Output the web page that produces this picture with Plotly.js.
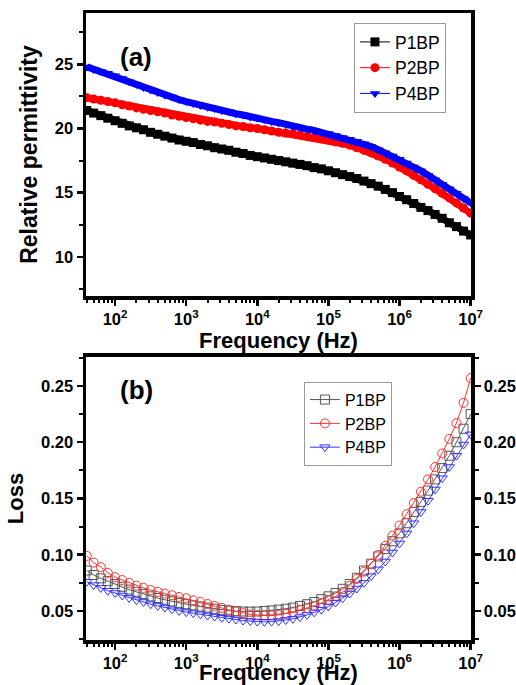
<!DOCTYPE html>
<html>
<head>
<meta charset="utf-8">
<script src="https://cdn.plot.ly/plotly-3.0.1.min.js"></script>
<style>html,body{margin:0;padding:0;background:#fff;}#chart{width:516px;height:685px;}</style>
</head>
<body>
<div id="chart"></div>
<script>
// Frequency (Hz)
const freq = [40,50,63,79,100,126,158,200,251,316,398,501,631,794,
  1000,1259,1585,1995,2512,3162,3981,5012,6310,7943,
  1e4,12589,15849,19953,25119,31623,39811,50119,63096,79433,
  1e5,125893,158489,199526,251189,316228,398107,501187,630957,794328,
  1e6,1258925,1584893,1995262,2511886,3162278,3981072,5011872,6309573,7943282,1e7];

// (a) Relative permittivity
const permP1BP = [21.4,21.2,21.0,20.8,20.6,20.4,20.2,20.05,19.9,19.7,19.55,19.4,19.25,19.1,
  19.0,18.9,18.75,18.65,18.5,18.4,18.3,18.15,18.05,17.9,
  17.8,17.7,17.6,17.5,17.4,17.3,17.2,17.1,16.95,16.85,
  16.7,16.55,16.4,16.25,16.1,15.9,15.7,15.5,15.25,15.0,
  14.7,14.45,14.15,13.85,13.6,13.3,13.0,12.65,12.35,12.0,11.7];
const permP2BP = [22.4,22.3,22.2,22.1,22.0,21.85,21.75,21.6,21.5,21.4,21.3,21.2,21.05,20.95,
  20.85,20.75,20.65,20.55,20.5,20.4,20.3,20.2,20.15,20.05,
  20.0,19.9,19.8,19.7,19.65,19.6,19.5,19.4,19.3,19.2,
  19.1,18.95,18.85,18.7,18.5,18.3,18.1,17.85,17.6,17.3,
  17.0,16.7,16.35,16.0,15.65,15.3,14.95,14.6,14.2,13.8,13.4];
const permP4BP = [24.8,24.6,24.45,24.3,24.1,23.9,23.65,23.45,23.2,23.0,22.8,22.6,22.45,22.25,
  22.1,21.95,21.8,21.65,21.55,21.4,21.3,21.15,21.05,20.9,
  20.8,20.7,20.55,20.45,20.3,20.2,20.1,19.95,19.85,19.7,
  19.6,19.45,19.3,19.15,19.0,18.8,18.6,18.35,18.1,17.85,
  17.6,17.3,17.0,16.7,16.35,16.0,15.65,15.3,14.95,14.55,14.2];

// (b) Loss
const lossP1BP = [0.086,0.082,0.079,0.0765,0.074,0.0715,0.069,0.067,0.065,0.063,0.0615,0.060,0.0585,0.057,
  0.056,0.055,0.054,0.053,0.052,0.051,0.0503,0.0498,0.0495,0.0494,
  0.0495,0.050,0.0505,0.0512,0.052,0.053,0.0545,0.056,0.058,0.0605,
  0.063,0.066,0.0697,0.074,0.0795,0.086,0.092,0.0985,0.105,0.112,
  0.119,0.128,0.138,0.147,0.157,0.167,0.177,0.188,0.200,0.212,0.225];
const lossP2BP = [0.099,0.093,0.089,0.084,0.080,0.0775,0.075,0.0725,0.0705,0.0686,0.067,0.0655,0.064,0.0625,
  0.0613,0.0595,0.058,0.0562,0.0545,0.0527,0.051,0.0495,0.048,0.047,
  0.0464,0.046,0.046,0.0465,0.0475,0.049,0.051,0.0525,0.0545,0.057,
  0.0598,0.063,0.067,0.0725,0.0785,0.085,0.092,0.100,0.108,0.117,
  0.126,0.136,0.146,0.156,0.167,0.178,0.190,0.203,0.217,0.235,0.257];
const lossP4BP = [0.076,0.073,0.0705,0.068,0.066,0.0638,0.0616,0.0597,0.058,0.056,0.0545,0.053,0.0515,0.050,
  0.049,0.048,0.047,0.046,0.045,0.044,0.0432,0.0424,0.0415,0.041,
  0.0405,0.0403,0.0405,0.041,0.042,0.043,0.0445,0.0465,0.0488,0.0512,
  0.054,0.0575,0.0613,0.0655,0.070,0.075,0.081,0.087,0.094,0.102,
  0.110,0.119,0.128,0.138,0.148,0.158,0.168,0.178,0.188,0.198,0.207];

const seriesNames = ['P1BP','P2BP','P4BP'];
const xTickVals = [100,1000,1e4,1e5,1e6,1e7];
const xTickText = ['10<sup>2</sup>','10<sup>3</sup>','10<sup>4</sup>','10<sup>5</sup>','10<sup>6</sup>','10<sup>7</sup>'];
const permTickVals = [10,15,20,25];
const lossTickVals = [0.05,0.10,0.15,0.20,0.25];
const lossTickText = ['0.05','0.10','0.15','0.20','0.25'];

const minorX = [];
for (let e = 1; e <= 6; e++) for (let m = 2; m <= 9; m++) minorX.push(m * Math.pow(10, e));

const FONT = 'Arial, "Liberation Sans", sans-serif';
const cols = ['#000000', '#ff0000', '#0000ff'];
const symA = ['square', 'circle', 'triangle-down'];
const colsB = ['#555555', '#ff3333', '#3333ff'];
const symB = ['square-open', 'circle-open', 'triangle-down-open'];
const permData = [permP1BP, permP2BP, permP4BP];
const lossData = [lossP1BP, lossP2BP, lossP4BP];

const traces = [];
for (let i = 0; i < 3; i++) {
  traces.push({
    x: freq, y: permData[i], xaxis: 'x', yaxis: 'y', type: 'scatter', mode: 'lines+markers',
    line: {color: cols[i], width: 7}, marker: {symbol: symA[i], size: 9, color: cols[i]},
    showlegend: false, name: seriesNames[i]
  });
}
for (let i = 0; i < 3; i++) {
  traces.push({
    x: [null], y: [null], xaxis: 'x', yaxis: 'y', type: 'scatter', mode: 'lines+markers',
    line: {color: cols[i], width: 1}, marker: {symbol: symA[i], size: 9, color: cols[i]},
    showlegend: true, legend: 'legend', name: seriesNames[i]
  });
}
for (let i = 0; i < 3; i++) {
  traces.push({
    x: freq, y: lossData[i], xaxis: 'x2', yaxis: 'y2', type: 'scatter', mode: 'lines+markers',
    line: {color: colsB[i], width: 1}, marker: {symbol: symB[i], size: 9, color: colsB[i], line: {width: 1}},
    showlegend: true, legend: 'legend2', name: seriesNames[i]
  });
}

const tickFont = {family: FONT, size: 16.5, color: '#000', weight: 'bold'};
const titleFont = {family: FONT, size: 22, color: '#000', weight: 'bold'};
const common = {
  showline: true, linewidth: 3.5, linecolor: '#000', ticks: 'outside', ticklen: 6, tickwidth: 2.5,
  tickcolor: '#000', showgrid: false, zeroline: false, tickfont: tickFont
};
const xCommon = Object.assign({}, common, {
  type: 'log', range: [Math.log10(39), 7.005], tickmode: 'array', tickvals: xTickVals, ticktext: xTickText,
  mirror: true, minor: {tickmode: 'array', tickvals: minorX, ticks: 'outside', ticklen: 3, tickwidth: 2, tickcolor: '#000'}
});

const layout = {
  width: 516, height: 685,
  margin: {l: 86, r: 45, t: 13, b: 45},
  paper_bgcolor: '#fff', plot_bgcolor: '#fff',
  font: {family: FONT, color: '#000'},
  xaxis: Object.assign({}, xCommon, {anchor: 'y', domain: [0, 1],
    title: {text: 'Frequency (Hz)', font: titleFont, standoff: 4}}),
  yaxis: Object.assign({}, common, {domain: [0.5486, 1], range: [6.94, 29], tickmode: 'array', tickvals: permTickVals,
    mirror: true, minor: {dtick: 2.5, ticks: 'outside', ticklen: 4, tickwidth: 2, tickcolor: '#000'},
    title: {text: 'Relative permittivity', font: {family: FONT, size: 23, color: '#000', weight: 'bold'}, standoff: 12}}),
  xaxis2: Object.assign({}, xCommon, {anchor: 'y2', domain: [0, 1],
    title: {text: 'Frequency (Hz)', font: titleFont, standoff: 0}}),
  yaxis2: Object.assign({}, common, {domain: [0, 0.4514], range: [0.0242, 0.2758], tickmode: 'array',
    tickvals: lossTickVals, ticktext: lossTickText, anchor: 'x2',
    minor: {dtick: 0.025, ticks: 'outside', ticklen: 4, tickwidth: 2, tickcolor: '#000'},
    title: {text: 'Loss', font: titleFont, standoff: 12}}),
  yaxis3: Object.assign({}, common, {overlaying: 'y2', side: 'right', anchor: 'x2', range: [0.0242, 0.2758],
    tickmode: 'array', tickvals: lossTickVals, ticktext: lossTickText,
    minor: {dtick: 0.025, ticks: 'outside', ticklen: 4, tickwidth: 2, tickcolor: '#000'}}),
  legend: {x: 0.696, y: 0.984, xanchor: 'left', yanchor: 'top', bgcolor: '#fff', bordercolor: '#999', borderwidth: 1,
    font: {family: FONT, size: 17.5, color: '#000'}, tracegroupgap: 0},
  legend2: {x: 0.566, y: 0.412, xanchor: 'left', yanchor: 'top', bgcolor: '#fff', bordercolor: '#999', borderwidth: 1,
    font: {family: FONT, size: 16, color: '#000'}, tracegroupgap: 0},
  annotations: [
    {text: '(a)', xref: 'paper', yref: 'paper', x: 0.083, y: 0.957, showarrow: false,
      font: {family: FONT, size: 26, color: '#000', weight: 'bold'}},
    {text: '(b)', xref: 'paper', yref: 'paper', x: 0.083, y: 0.399, showarrow: false,
      font: {family: FONT, size: 26, color: '#000', weight: 'bold'}}
  ]
};
// dummy trace to activate yaxis3
traces.push({x: [null], y: [null], xaxis: 'x2', yaxis: 'y3', type: 'scatter', showlegend: false, hoverinfo: 'skip'});

Plotly.newPlot('chart', traces, layout, {displayModeBar: false, staticPlot: true});
</script>
</body>
</html>
